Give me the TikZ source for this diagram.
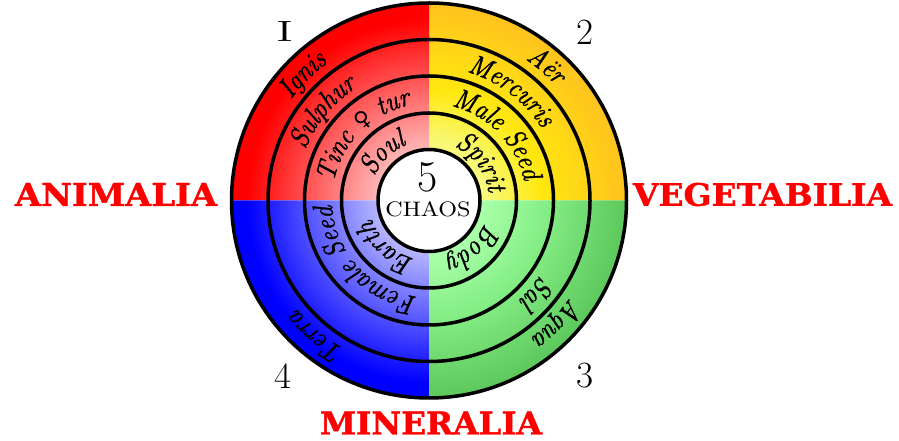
\documentclass[tikz,border=0pt]{standalone}
\usepackage{fontspec}
\usetikzlibrary{decorations.text}
\newfontfamily\labfont{DejaVuSerif-Bold.ttf}[FakeBold=1.2]
\newfontfamily\venusfont{DejaVu Sans}
\newfontfamily\arcfam{lmroman10-italic.otf}[FakeStretch=0.88,FakeBold=1.2]
\definecolor{ylwA}{HTML}{FFFFC0}
\definecolor{ylwB}{HTML}{F8F870}
\definecolor{ylwC}{HTML}{FFE810}
\definecolor{ylwD}{HTML}{FFC21E}
\definecolor{grnA}{HTML}{D8FFD8}
\definecolor{grnB}{HTML}{A8FFA8}
\definecolor{grnC}{HTML}{88F088}
\definecolor{grnD}{HTML}{5CC85C}
\definecolor{bluD}{HTML}{0000FF}
\definecolor{redD}{HTML}{FF0000}
\pgfdeclareradialshading{qred}{\pgfpoint{0bp}{0bp}}{color(0bp)=(white); color(23bp)=(redD); color(50bp)=(redD)}
\pgfdeclareradialshading{qyel}{\pgfpoint{0bp}{0bp}}{color(0bp)=(ylwA); color(8bp)=(ylwB); color(14bp)=(ylwC); color(25bp)=(ylwD); color(50bp)=(ylwD)}
\pgfdeclareradialshading{qgrn}{\pgfpoint{0bp}{0bp}}{color(0bp)=(grnA); color(7bp)=(grnB); color(14bp)=(grnC); color(25bp)=(grnD); color(50bp)=(grnD)}
\pgfdeclareradialshading{qblu}{\pgfpoint{0bp}{0bp}}{color(0bp)=(white); color(23bp)=(bluD); color(50bp)=(bluD)}
\newcommand\arcfont{\arcfam\fontsize{28}{28}\selectfont}
\newcommand\arcT[3]{\path[decorate,decoration={text along path,text align=center,text={|\arcfont|#3}}] (C) ++(#2+70:#1) arc[start angle=#2+70,end angle=#2-70,radius=#1];}
\tikzset{
  biglab/.style={text=redD, inner sep=0pt, font=\labfont},
  numlab/.style={inner sep=0pt, font=\fontsize{37}{37}\selectfont},
  ringline/.style={line width=3.5pt, draw=black}
}
\begin{document}
\begin{tikzpicture}[x=1pt,y=1pt]
\useasboundingbox (0,0) rectangle (899,441);
\coordinate (C) at (429,240.5);
\foreach \a/\s in {0/qyel,90/qred,180/qblu,270/qgrn}{
  \begin{scope}
    \clip (C) -- ++(\a:205) arc[start angle=\a,end angle=\a+90,radius=205] -- cycle;
    \shade[shading=\s] (C) circle (197.5);
  \end{scope}
}
\foreach \r in {197.5,161,124.5,87.5}{
  \draw[ringline] (C) circle (\r);
}
\node[circle, ringline, fill=white, minimum size=102pt, inner sep=0pt] (chaos) at (C) {};
\node[inner sep=0pt, font=\fontsize{44}{44}\selectfont] (five) at (428,263.5) {5};
\node[inner sep=0pt] (chaostxt) at (428,231.5) {\resizebox{85pt}{15pt}{CHAOS}};
% ring texts
\arcT{171}{135}{Ignis}
\arcT{134}{140}{Sulphur}
\arcT{97}{135}{Tinc |\venusfont\upshape\fontsize{22}{22}\selectfont|♀|\arcfont| tur}
\arcT{60}{134}{Soul}
\arcT{171}{49}{Aër}
\arcT{134}{53}{Mercuris}
\arcT{97}{44}{Male Seed}
\arcT{60}{36}{Spirit}
\arcT{60}{-48}{Body}
\arcT{134}{-41}{Sal}
\arcT{171}{-44}{Aqua}
\arcT{60}{-133}{Earth}
\arcT{97}{-137}{Female Seed}
\arcT{171}{-130}{Terra}
% numbers
\node[inner sep=0pt] (n1) at (284.5,409) {\resizebox{15pt}{20pt}{I}};
\node[numlab] (n2) at (585,409) {2};
\node[numlab] (n3) at (585,65) {3};
\node[numlab] (n4) at (283,64.5) {4};
% kingdoms
\node[biglab] (anim) at (116,246.5) {\resizebox{202pt}{23pt}{ANIMALIA}};
\node[biglab] (vege) at (762.5,246.5) {\resizebox{259pt}{23pt}{VEGETABILIA}};
\node[biglab] (mine) at (431,18) {\resizebox{222pt}{23pt}{MINERALIA}};
\end{tikzpicture}
\end{document}
